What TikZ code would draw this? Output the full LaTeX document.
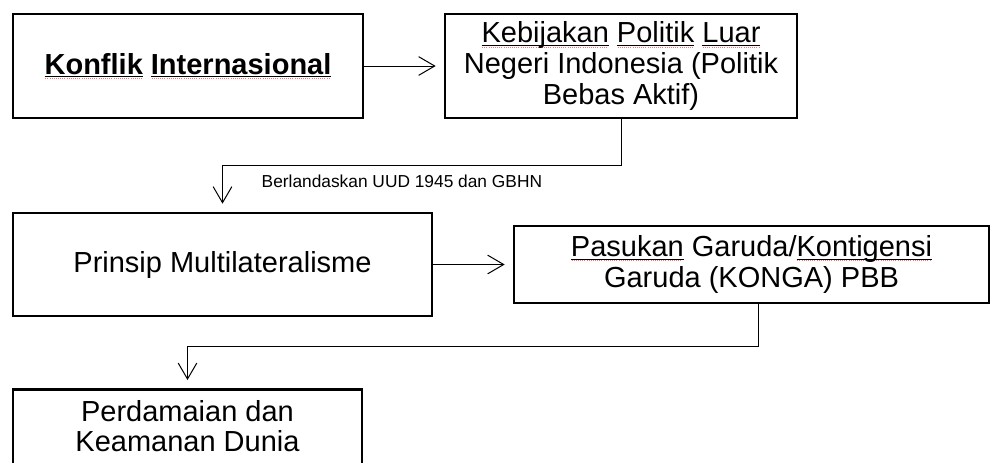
\documentclass[tikz,border=0pt]{standalone}
\usepackage{fontspec}
\setmainfont{Liberation Sans}
\usepackage{xcolor}
\usetikzlibrary{arrows.meta}

% kata dengan garis bawah pemeriksa ejaan
\newcommand\salah[1]{\setbox0\hbox{#1}%
  \rlap{\raisebox{-3.2pt}{\color{red!55}\leaders\hbox to 1.6pt{\hss\rule{0.6pt}{0.45pt}\hss}\hskip\wd0\relax}}%
  \rlap{\raisebox{-2.1pt}{\rule{\wd0}{0.55pt}}}\box0\relax}

\begin{document}
\begin{tikzpicture}[x=0.75pt, y=-0.75pt, >={Straight Barb[length=12pt, width=14pt]},
  kotak/.style={draw, line width=2pt, align=center, inner sep=2pt,
    font=\fontsize{21.75pt}{23pt}\selectfont},
  panah/.style={->, line width=0.75pt, shorten >=6pt}]
  \useasboundingbox (0,0) rectangle (991,462);

  \node[kotak, minimum width=262.5pt, minimum height=78pt] (konflik) at (188,66)
    {\textbf{\salah{Konflik} \salah{Internasional}}};
  \node[kotak, minimum width=264pt, minimum height=78pt] (kebijakan) at (621,66)
    {\salah{Kebijakan} \salah{Politik} \salah{Luar}\\Negeri Indonesia (Politik\\Bebas Aktif)};

  \node[kotak, minimum width=314.25pt, minimum height=77.25pt] (prinsip) at (222.5,264.5)
    {Prinsip Multilateralisme};
  \node[kotak, minimum width=356.25pt, minimum height=57.75pt] (pasukan) at (751.5,264.5)
    {\salah{Pasukan} Garuda/\salah{Kontigensi}\\Garuda (KONGA) PBB};

  \node[kotak, minimum width=261.75pt, anchor=north, inner ysep=8pt, text depth=20pt] (perdamaian) at (187.5,388)
    {Perdamaian dan\\Keamanan Dunia};

  \draw[panah] (konflik) -- (kebijakan);
  \draw[panah] (kebijakan.south) -- ++(0,46) -| (prinsip.north);
  \node[anchor=base west, font=\fontsize{13pt}{15pt}\selectfont] (landasan) at (257,187)
    {Berlandaskan UUD 1945 dan GBHN};

  \draw[panah] (prinsip) -- (pasukan);
  \draw[panah] ([xshift=5pt]pasukan.south) -- ++(0,42) -| (perdamaian.north);
\end{tikzpicture}
\end{document}
